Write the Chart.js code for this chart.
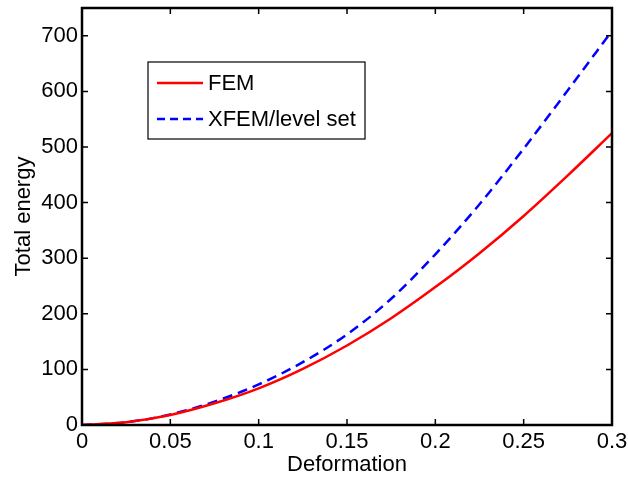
<!DOCTYPE html>
<html>
<head>
<meta charset="utf-8">
<script src="https://cdn.jsdelivr.net/npm/chart.js@4/dist/chart.umd.min.js"></script>
<style>
html,body{margin:0;padding:0;background:#fff;}
#wrap{width:628px;height:480px;}
</style>
</head>
<body>
<div id="wrap"><canvas id="c" width="628" height="480"></canvas></div>
<script>
const deformation = [0, 0.025, 0.05, 0.075, 0.1, 0.125, 0.15, 0.175, 0.2, 0.225, 0.25, 0.275, 0.3];
const femEnergy   = [0, 5, 18, 39, 66, 101, 143, 192, 248, 309, 376, 449, 525];
const xfemEnergy  = [0, 5, 19, 42, 73, 113, 163, 227, 307, 397, 497, 602, 709];
const xTickValues = [0, 0.05, 0.1, 0.15, 0.2, 0.25, 0.3];
const xTickLabels = ['0', '0.05', '0.1', '0.15', '0.2', '0.25', '0.3'];
const yTickValues = [0, 100, 200, 300, 400, 500, 600, 700];
const yTickLabels = ['0', '100', '200', '300', '400', '500', '600', '700'];
const seriesNames = ['FEM', 'XFEM/level set'];

const FONT = "'Liberation Sans', Arial, Helvetica, sans-serif";

const frameAndLegend = {
  id: 'frameAndLegend',
  afterDraw(chart) {
    const ctx = chart.ctx;
    const a = chart.chartArea;
    const xs = chart.scales.x, ys = chart.scales.y;
    ctx.save();
    ctx.strokeStyle = '#000';
    ctx.lineWidth = 1.5;
    ctx.beginPath();
    xs.ticks.forEach(t => {
      const px = xs.getPixelForValue(t.value);
      ctx.moveTo(px, a.bottom); ctx.lineTo(px, a.bottom - 6);
      ctx.moveTo(px, a.top); ctx.lineTo(px, a.top + 6);
    });
    ys.ticks.forEach(t => {
      const py = ys.getPixelForValue(t.value);
      ctx.moveTo(a.left, py); ctx.lineTo(a.left + 6, py);
      ctx.moveTo(a.right, py); ctx.lineTo(a.right - 6, py);
    });
    ctx.stroke();
    ctx.lineWidth = 2.5;
    ctx.strokeRect(a.left, a.top, a.right - a.left, a.bottom - a.top);

    // legend
    const bx = 148, by = 62, bw = 217, bh = 77;
    ctx.fillStyle = '#fff';
    ctx.fillRect(bx, by, bw, bh);
    ctx.lineWidth = 1.2;
    ctx.strokeRect(bx, by, bw, bh);
    const rows = [83, 119];
    chart.data.datasets.forEach((ds, i) => {
      ctx.strokeStyle = ds.borderColor;
      ctx.lineWidth = ds.borderWidth;
      ctx.setLineDash(ds.borderDash ? [8, 5] : []);
      ctx.beginPath();
      ctx.moveTo(157, rows[i]); ctx.lineTo(203, rows[i]);
      ctx.stroke();
      ctx.setLineDash([]);
      ctx.fillStyle = '#000';
      ctx.font = '22px ' + FONT;
      ctx.textBaseline = 'middle';
      ctx.textAlign = 'left';
      ctx.fillText(ds.label, 208, rows[i] + 1);
    });
    ctx.restore();
  }
};

new Chart(document.getElementById('c'), {
  type: 'line',
  data: {
    datasets: [
      {
        label: seriesNames[0],
        data: deformation.map((x, i) => ({x: x, y: femEnergy[i]})),
        borderColor: '#ff0000',
        borderWidth: 2.5,
        pointRadius: 0,
        fill: false,
        cubicInterpolationMode: 'monotone'
      },
      {
        label: seriesNames[1],
        data: deformation.map((x, i) => ({x: x, y: xfemEnergy[i]})),
        borderColor: '#0000ff',
        borderWidth: 2.5,
        borderDash: [10, 6],
        pointRadius: 0,
        fill: false,
        cubicInterpolationMode: 'monotone'
      }
    ]
  },
  options: {
    responsive: false,
    animation: false,
    events: [],
    layout: { padding: { left: 0, right: 16, top: 8, bottom: 0 } },
    plugins: { legend: { display: false }, tooltip: { enabled: false } },
    scales: {
      x: {
        type: 'linear',
        min: 0, max: 0.3,
        afterBuildTicks: s => { s.ticks = xTickValues.map(v => ({value: v})); },
        afterFit: s => { s.height = 55; s.paddingLeft = 0; s.paddingRight = 0; s.paddingTop = 0; s.paddingBottom = 0; },
        grid: { display: false, drawTicks: false },
        border: { display: false },
        ticks: {
          color: '#000',
          font: { family: FONT, size: 22 },
          padding: 4,
          maxRotation: 0,
          callback: (v, i) => xTickLabels[i]
        },
        title: {
          display: true, text: 'Deformation', color: '#000',
          font: { family: FONT, size: 22 },
          padding: { top: 0, bottom: 2 }
        }
      },
      y: {
        type: 'linear',
        min: 0, max: 750,
        afterBuildTicks: s => { s.ticks = yTickValues.map(v => ({value: v})); },
        afterFit: s => { s.width = 82; s.paddingLeft = 0; s.paddingRight = 0; s.paddingTop = 0; s.paddingBottom = 0; },
        grid: { display: false, drawTicks: false },
        border: { display: false },
        ticks: {
          color: '#000',
          font: { family: FONT, size: 22 },
          padding: 4,
          callback: (v, i) => yTickLabels[i]
        },
        title: {
          display: true, text: 'Total energy', color: '#000',
          font: { family: FONT, size: 22 },
          padding: { top: 11, bottom: 0 }
        }
      }
    }
  },
  plugins: [frameAndLegend]
});
</script>
</body>
</html>
